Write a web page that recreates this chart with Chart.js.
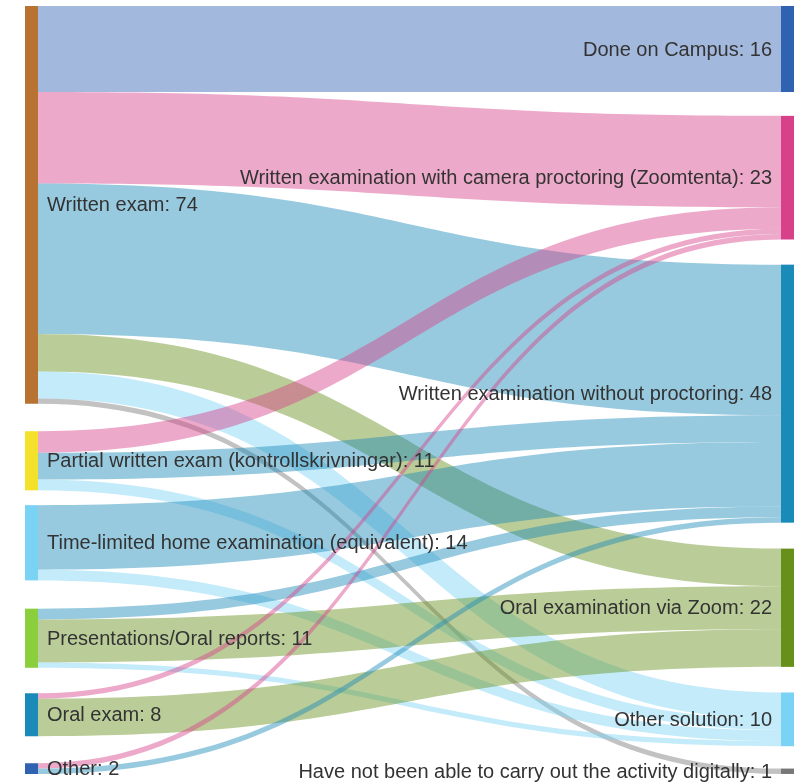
<!DOCTYPE html>
<html lang="en">
<head>
  <meta charset="UTF-8" />
  <title>Exam forms – Sankey</title>
  <script src="https://cdn.jsdelivr.net/npm/chart.js"></script>
  <style>
    body { margin: 0; background: #fff; }
    #wrap { width: 794px; height: 783px; }
  </style>
</head>
<body>
<div id="wrap"><canvas id="sankeyChart"></canvas></div>

<script>
  // left column (where the activity came from)
  const sources = [
    'Written exam',
    'Partial written exam (kontrollskrivningar)',
    'Time-limited home examination (equivalent)',
    'Presentations/Oral reports',
    'Oral exam',
    'Other'
  ];
  // right column (how it was carried out)
  const targets = [
    'Done on Campus',
    'Written examination with camera proctoring (Zoomtenta)',
    'Written examination without proctoring',
    'Oral examination via Zoom',
    'Other solution',
    'Have not been able to carry out the activity digitally'
  ];
  // flows: source index -> target index, value
  const linkFrom  = [0, 0, 0, 0, 0, 0,  1, 1, 1,  2, 2,  3, 3, 3,  4, 4,  5, 5];
  const linkTo    = [0, 1, 2, 3, 4, 5,  1, 2, 4,  2, 4,  2, 3, 4,  1, 3,  1, 2];
  const linkValue = [16, 17, 28, 7, 5, 1,  4, 5, 2,  12, 2,  2, 8, 1,  1, 7,  1, 1];

  const sourceColors = ['#b87333', '#f4e12c', '#7ad2f4', '#8ccf3c', '#1a8ab8', '#3062b2'];
  const targetColors = ['#3062b2', '#d6418a', '#1a8ab8', '#66901a', '#7ad2f4', '#777777'];

  // spacing between stacked nodes (value units), as the layout relaxed them
  const sourceGaps = [5.11, 2.75, 5.26, 4.74, 5.02];
  const targetGaps = [4.44, 4.68, 4.83, 4.76, 4.16];
  const NODE_W = 13;     // node width, px
  const LINK_ALPHA = 0.45;

  function sumBy(idx, n) {
    const out = new Array(n).fill(0);
    linkValue.forEach((v, i) => { out[idx[i]] += v; });
    return out;
  }
  const sourceTotals = sumBy(linkFrom, sources.length);
  const targetTotals = sumBy(linkTo, targets.length);

  function stack(totals, gaps) {
    const tops = [];
    let acc = 0;
    totals.forEach((t, i) => { tops.push(acc); acc += t + (gaps[i] || 0); });
    return tops;
  }
  const sourceTops = stack(sourceTotals, sourceGaps);
  const targetTops = stack(targetTotals, targetGaps);
  const yMax = Math.max(
    sourceTops[sources.length - 1] + sourceTotals[sources.length - 1],
    targetTops[targets.length - 1] + targetTotals[targets.length - 1]
  );

  function rgba(hex, a) {
    const n = parseInt(hex.slice(1), 16);
    return `rgba(${(n >> 16) & 255}, ${(n >> 8) & 255}, ${n & 255}, ${a})`;
  }

  const sankeyPlugin = {
    id: 'sankey',
    afterDatasetsDraw(chart) {
      const { ctx, scales: { x, y } } = chart;
      const leftX = x.getPixelForValue(0);
      const rightX = x.getPixelForValue(1);
      const x0 = leftX + NODE_W;
      const x1 = rightX - NODE_W;
      const xm = (x0 + x1) / 2;

      // offsets inside each node
      const srcOff = sourceTops.slice();
      const tgtOff = targetTops.slice();
      const order = linkValue.map((v, i) => i);
      const srcPos = {}, tgtPos = {};
      order.slice().sort((a, b) => linkFrom[a] - linkFrom[b] || linkTo[a] - linkTo[b]).forEach(i => {
        srcPos[i] = srcOff[linkFrom[i]];
        srcOff[linkFrom[i]] += linkValue[i];
      });
      order.slice().sort((a, b) => linkTo[a] - linkTo[b] || linkFrom[a] - linkFrom[b]).forEach(i => {
        tgtPos[i] = tgtOff[linkTo[i]];
        tgtOff[linkTo[i]] += linkValue[i];
      });

      ctx.save();
      // links
      order.forEach(i => {
        const s0 = y.getPixelForValue(srcPos[i]);
        const s1 = y.getPixelForValue(srcPos[i] + linkValue[i]);
        const t0 = y.getPixelForValue(tgtPos[i]);
        const t1 = y.getPixelForValue(tgtPos[i] + linkValue[i]);
        ctx.beginPath();
        ctx.moveTo(x0, s0);
        ctx.bezierCurveTo(xm, s0, xm, t0, x1, t0);
        ctx.lineTo(x1, t1);
        ctx.bezierCurveTo(xm, t1, xm, s1, x0, s1);
        ctx.closePath();
        ctx.fillStyle = rgba(targetColors[linkTo[i]], LINK_ALPHA);
        ctx.fill();
      });

      // nodes
      sources.forEach((s, i) => {
        const top = y.getPixelForValue(sourceTops[i]);
        const bot = y.getPixelForValue(sourceTops[i] + sourceTotals[i]);
        ctx.fillStyle = sourceColors[i];
        ctx.fillRect(leftX, top, NODE_W, bot - top);
      });
      targets.forEach((t, i) => {
        const top = y.getPixelForValue(targetTops[i]);
        const bot = y.getPixelForValue(targetTops[i] + targetTotals[i]);
        ctx.fillStyle = targetColors[i];
        ctx.fillRect(x1, top, NODE_W, bot - top);
      });

      // labels
      ctx.font = '20px "Liberation Sans", Arial, sans-serif';
      ctx.fillStyle = '#333';
      ctx.textBaseline = 'middle';
      ctx.textAlign = 'left';
      sources.forEach((s, i) => {
        const mid = y.getPixelForValue(sourceTops[i] + sourceTotals[i] / 2);
        ctx.fillText(`${s}: ${sourceTotals[i]}`, x0 + 9, mid + 1);
      });
      ctx.textAlign = 'right';
      targets.forEach((t, i) => {
        const mid = y.getPixelForValue(targetTops[i] + targetTotals[i] / 2);
        ctx.fillText(`${t}: ${targetTotals[i]}`, x1 - 9, mid + 1);
      });
      ctx.restore();
    }
  };

  new Chart(document.getElementById('sankeyChart'), {
    type: 'scatter',
    data: { datasets: [{ data: [] }] },
    options: {
      responsive: true,
      maintainAspectRatio: false,
      animation: false,
      events: [],
      layout: { padding: { left: 25, right: 0, top: 6, bottom: 9 } },
      scales: {
        x: { type: 'linear', min: 0, max: 1, display: false },
        y: { type: 'linear', min: 0, max: yMax, reverse: true, display: false }
      },
      plugins: { legend: { display: false }, tooltip: { enabled: false } }
    },
    plugins: [sankeyPlugin]
  });
</script>
</body>
</html>
